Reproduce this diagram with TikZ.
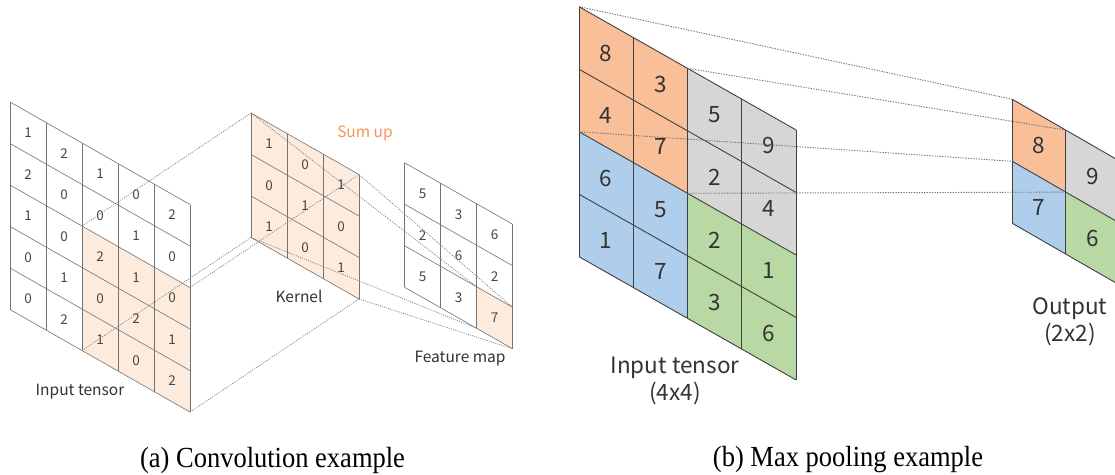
\documentclass[tikz,border=0pt]{standalone}
\usepackage{fontspec}
\setmainfont{Liberation Serif}
\newfontfamily\dfont{Noto Sans CJK JP}
\usetikzlibrary{calc}
\definecolor{convfill}{RGB}{253,236,222}
\definecolor{sumcol}{RGB}{243,150,90}
\definecolor{porange}{RGB}{248,191,152}
\definecolor{pgray}{RGB}{214,214,214}
\definecolor{pblue}{RGB}{175,206,236}
\definecolor{pgreen}{RGB}{184,216,164}
\tikzset{
  num/.style={font=\dfont\fontsize{13.5}{13.5}\selectfont, text=black!72, inner sep=0pt},
  bignum/.style={font=\dfont\fontsize{22.5}{22.5}\selectfont, text=black!80, inner sep=0pt},
  lab/.style={font=\dfont\fontsize{15.5}{17}\selectfont, text=black!80, inner sep=0pt},
  biglab/.style={font=\dfont\fontsize{22.5}{27}\selectfont, text=black!80, inner sep=0pt, align=center},
  captext/.style={font=\fontsize{26.5}{30}\selectfont, inner sep=0pt, yscale=1.1},
  gridln/.style={draw=black!55, line width=0.6pt},
  pgridln/.style={draw=black!75, line width=0.9pt},
  dots/.style={draw=black!55, line width=0.65pt, dash pattern=on 1pt off 1.2pt},
  pdots/.style={draw=black!55, line width=0.9pt, dash pattern=on 1.3pt off 1.3pt},
}
% name, x0, y0, w, h, s, ncols, nrows
\newcommand\skewpts[8]{\foreach \cc in {0,...,#7}{\foreach \rr in {0,...,#8}{%
  \coordinate (#1-\cc-\rr) at ({#2+\cc*#4},{#3+\rr*#5+\cc*#6});}}}
% name, x0, y0, w, h, s, style, rows
\newcommand\cellnums[8]{\foreach \row [count=\rr from 0] in {#8}{\foreach \v [count=\cc from 0] in \row {%
  \node[#7] (#1-\rr-\cc) at ({#2+(\cc+0.5)*#4},{#3+(\rr+0.5)*#5+(\cc+0.5)*#6}) {\v};}}}
\newcommand\gridlines[4]{\foreach \cc in {0,...,#2}{\draw[#4] (#1-\cc-0) -- (#1-\cc-#3);}
  \foreach \rr in {0,...,#3}{\draw[#4] (#1-0-\rr) -- (#1-#2-\rr);}}
\begin{document}
\begin{tikzpicture}[x=1pt,y=-1pt]
\useasboundingbox (0,0) rectangle (1115,474);
\clip (0,0) rectangle (1115,474);
\fill[white] (0,0) rectangle (1115,474);
% ---------- (a) convolution ----------
\skewpts{I}{10}{102}{36}{41.5}{20.5}{5}{5}
\skewpts{K}{251}{113}{36}{41.5}{20.5}{3}{3}
\skewpts{F}{404.5}{162.7}{36}{41.5}{20.5}{3}{3}
\fill[convfill] (I-2-2) -- (I-5-2) -- (I-5-5) -- (I-2-5) -- cycle;
\fill[convfill] (K-0-0) -- (K-3-0) -- (K-3-3) -- (K-0-3) -- cycle;
\fill[convfill] (F-2-2) -- (F-3-2) -- (F-3-3) -- (F-2-3) -- cycle;
\gridlines{I}{5}{5}{gridln}
\gridlines{K}{3}{3}{gridln}
\gridlines{F}{3}{3}{gridln}
\cellnums{in}{10}{102}{36}{41.5}{20.5}{num}{{1,2,1,0,2},{2,0,0,1,0},{1,0,2,1,0},{0,1,0,2,1},{0,2,1,0,2}}
\cellnums{ke}{251}{113}{36}{41.5}{20.5}{num}{{1,0,1},{0,1,0},{1,0,1}}
\cellnums{fm}{404.5}{162.7}{36}{41.5}{20.5}{num}{{5,3,6},{2,6,2},{5,3,7}}
\draw[dots] (I-2-2) -- (K-0-0);
\draw[dots] (I-5-2) -- (K-3-0);
\draw[dots] (I-2-5) -- (K-0-3);
\draw[dots] (I-5-5) -- (K-3-3);
\draw[dots] (K-0-0) -- (F-2-2);
\draw[dots] (K-3-0) -- (F-3-2);
\draw[dots] (K-0-3) -- (F-2-3);
\draw[dots] (K-3-3) -- (F-3-3);
\node[lab, text=sumcol] (sum) at (365,133) {Sum up};
\node[lab] (klab) at (299,296) {Kernel};
\node[lab] (ilab) at (80,392) {Input tensor};
\node[lab] (flab) at (460,359) {Feature map};
% ---------- (b) max pooling ----------
\skewpts{B}{579}{6.7}{54.25}{62.5}{30.8}{4}{4}
\skewpts{O}{1012.3}{99.3}{53.5}{62}{30.8}{2}{2}
\fill[porange] (B-0-0) -- (B-2-0) -- (B-2-2) -- (B-0-2) -- cycle;
\fill[pgray]   (B-2-0) -- (B-4-0) -- (B-4-2) -- (B-2-2) -- cycle;
\fill[pblue]   (B-0-2) -- (B-2-2) -- (B-2-4) -- (B-0-4) -- cycle;
\fill[pgreen]  (B-2-2) -- (B-4-2) -- (B-4-4) -- (B-2-4) -- cycle;
\fill[porange] (O-0-0) -- (O-1-0) -- (O-1-1) -- (O-0-1) -- cycle;
\fill[pgray]   (O-1-0) -- (O-2-0) -- (O-2-1) -- (O-1-1) -- cycle;
\fill[pblue]   (O-0-1) -- (O-1-1) -- (O-1-2) -- (O-0-2) -- cycle;
\fill[pgreen]  (O-1-1) -- (O-2-1) -- (O-2-2) -- (O-1-2) -- cycle;
\gridlines{B}{4}{4}{pgridln}
\gridlines{O}{2}{2}{pgridln}
\cellnums{pi}{579}{6.7}{54.25}{62.5}{30.8}{bignum}{{8,3,5,9},{4,7,2,4},{6,5,2,1},{1,7,3,6}}
\cellnums{po}{1012.3}{99.3}{53.5}{62}{30.8}{bignum}{{8,9},{7,6}}
\draw[pdots] (B-0-0) -- (O-0-0);
\draw[pdots] (B-2-0) -- (O-1-0);
\draw[pdots] (B-0-2) -- (O-0-1);
\draw[pdots] (B-2-2) -- (O-1-1);
\node[biglab] (pilab) at (675,381) {Input tensor\\(4x4)};
\node[biglab] (polab) at (1070,322) {Output\\(2x2)};
% ---------- captions ----------
\node[captext] (capa) at (272.5,460) {(a) Convolution example};
\node[captext] (capb) at (848,460) {(b) Max pooling example};
\end{tikzpicture}
\end{document}
